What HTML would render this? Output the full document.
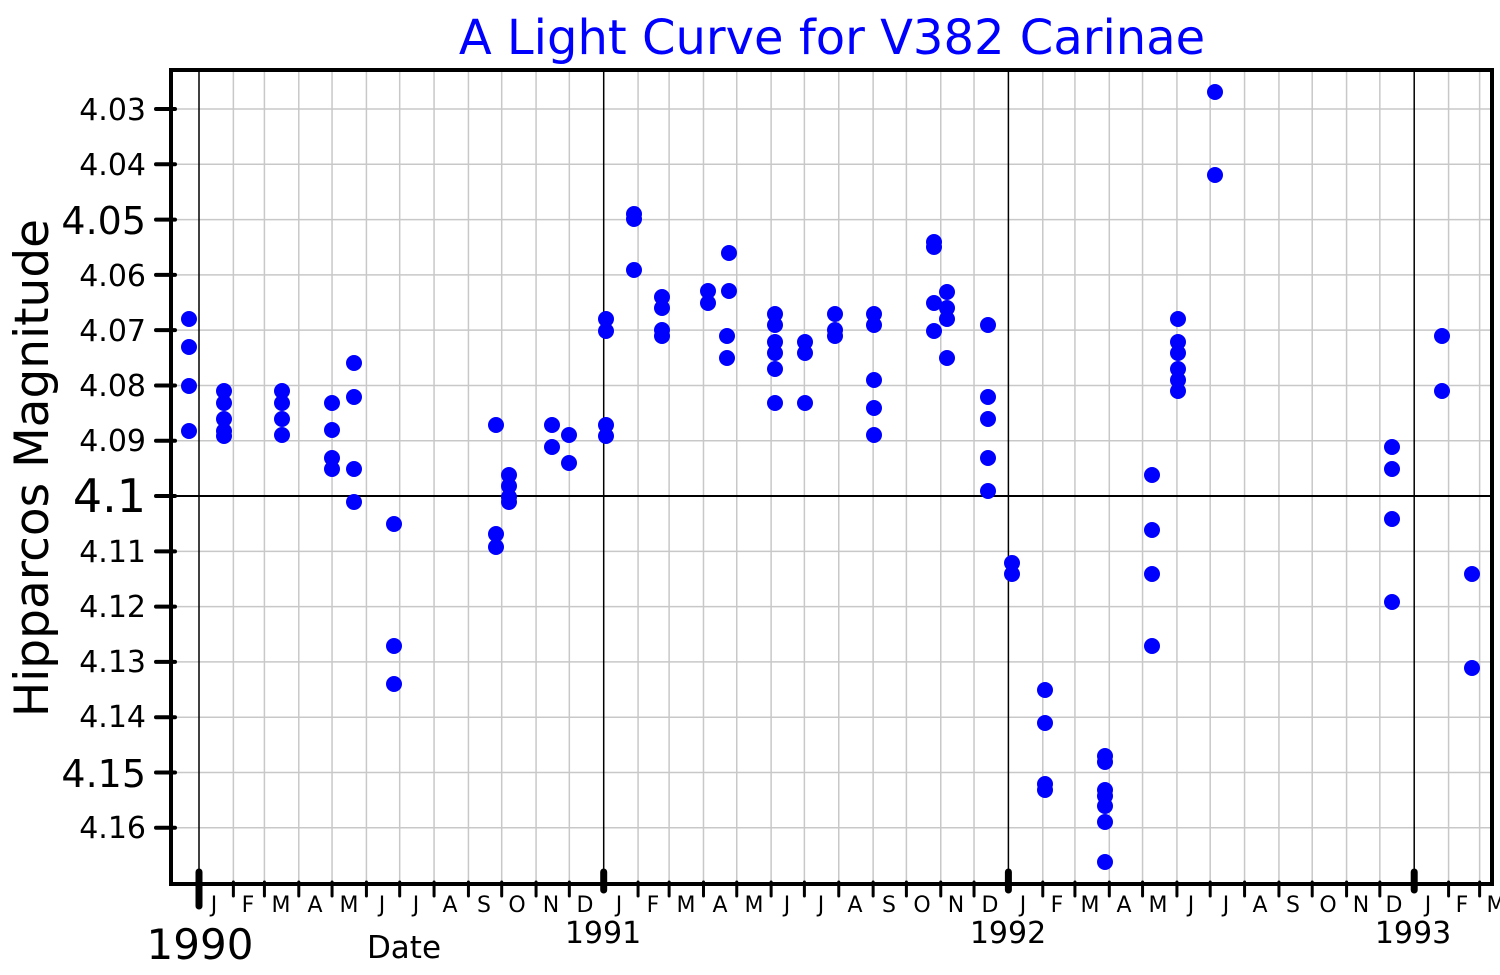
<!DOCTYPE html>
<html><head><meta charset="utf-8"><style>
html,body{margin:0;padding:0;background:#fff}
svg{display:block;font-family:"DejaVu Sans","Liberation Sans",sans-serif}
</style></head><body>
<svg id="s" width="1500" height="975" viewBox="0 0 1500 975" xmlns="http://www.w3.org/2000/svg">
<g id="grid" stroke="#c8c8c8" stroke-width="1.5"></g>
<g id="ml" stroke="#000" stroke-width="1.5"></g>
<line x1="171" y1="496" x2="1492" y2="496" stroke="#000" stroke-width="2"/>
<rect x="171" y="70" width="1321" height="814" fill="none" stroke="#000" stroke-width="4"/>
<g id="yt" stroke="#000" stroke-width="4" stroke-linecap="round"></g>
<g id="xt" stroke="#000" stroke-linecap="round"></g>
<g id="pts" fill="#0000ff"></g>
<text x="832" y="54" font-size="48" fill="#0000ff" text-anchor="middle">A Light Curve for V382 Carinae</text>
<text transform="translate(48,468) rotate(-90)" font-size="47" text-anchor="middle">Hipparcos Magnitude</text>
<g font-size="30" text-anchor="end">
<text x="146" y="120">4.03</text>
<text x="146" y="175">4.04</text>
<text x="146" y="234" font-size="38">4.05</text>
<text x="146" y="286">4.06</text>
<text x="146" y="341">4.07</text>
<text x="146" y="396">4.08</text>
<text x="146" y="451">4.09</text>
<text x="146" y="512" font-size="46">4.1</text>
<text x="146" y="562">4.11</text>
<text x="146" y="617">4.12</text>
<text x="146" y="672">4.13</text>
<text x="146" y="727">4.14</text>
<text x="146" y="787" font-size="38">4.15</text>
<text x="146" y="838">4.16</text>
</g>
<g font-size="22" text-anchor="middle">
<text x="214" y="912">J</text><text x="248" y="912">F</text><text x="281" y="912">M</text><text x="315" y="912">A</text><text x="349" y="912">M</text><text x="382" y="912">J</text><text x="416" y="912">J</text><text x="450" y="912">A</text><text x="484" y="912">S</text><text x="517" y="912">O</text><text x="551" y="912">N</text><text x="585" y="912">D</text>
<text x="619" y="912">J</text><text x="653" y="912">F</text><text x="686" y="912">M</text><text x="720" y="912">A</text><text x="754" y="912">M</text><text x="787" y="912">J</text><text x="821" y="912">J</text><text x="855" y="912">A</text><text x="889" y="912">S</text><text x="922" y="912">O</text><text x="956" y="912">N</text><text x="990" y="912">D</text>
<text x="1023" y="912">J</text><text x="1057" y="912">F</text><text x="1090" y="912">M</text><text x="1124" y="912">A</text><text x="1158" y="912">M</text><text x="1191" y="912">J</text><text x="1226" y="912">J</text><text x="1260" y="912">A</text><text x="1293" y="912">S</text><text x="1328" y="912">O</text><text x="1361" y="912">N</text><text x="1394" y="912">D</text>
<text x="1428" y="912">J</text><text x="1462" y="912">F</text><text x="1496" y="912">M</text>
</g>
<text x="200" y="959" font-size="42" text-anchor="middle">1990</text>
<text x="603" y="943" font-size="30" text-anchor="middle">1991</text>
<text x="1008" y="943" font-size="30" text-anchor="middle">1992</text>
<text x="1413" y="943" font-size="30" text-anchor="middle">1993</text>
<text x="404" y="958" font-size="31" text-anchor="middle">Date</text>
</svg>
<script>
var NS="http://www.w3.org/2000/svg";
function el(p,t,a){var e=document.createElementNS(NS,t);for(var k in a)e.setAttribute(k,a[k]);document.getElementById(p).appendChild(e);}
var ppd=404.7/365;
var ml=[31,28,31,30,31,30,31,31,30,31,30,31];
var d=0;
for(var y=0;y<4;y++){for(var m=0;m<12;m++){var x=199+d*ppd;if(x<1492){
 if(m==0){el('ml','line',{x1:x,y1:70,x2:x,y2:884});el('xt','line',{x1:x,y1:872,x2:x,y2:y==0?906:890,'stroke-width':7});}
 else{el('grid','line',{x1:x,y1:70,x2:x,y2:884});el('xt','line',{x1:x,y1:882,x2:x,y2:896,'stroke-width':3});}
 }
 var n=ml[m];if(m==1&&y==2)n=29;d+=n;}}
for(var i=0;i<14;i++){var yy=109+i*55.29;el('grid','line',{x1:171,y1:yy,x2:1492,y2:yy});el('yt','line',{x1:156,y1:yy,x2:175,y2:yy});}
var P={189:[319,347,386,431],224:[391,403,419,431,436],282:[391,403,419,435],332:[403,430,458,469],354:[363,397,469,502],394:[524,646,684],496:[425,534,547],509:[475,486,497,502],552:[425,447],569:[435,463],606:[319,331,425,436],634:[214,219,270],662:[297,308,330,336],708:[291,303],729:[253,291],727:[336,358],775:[314,325,342,353,369,403],805:[342,353,403],835:[314,330,336],874:[314,325,380,408,435],934:[242,247,303,331],947:[292,308,319,358],988:[325,397,419,458,491],1012:[563,574],1045:[690,723,784,790],1105:[756,762,790,796,806,822,862],1152:[475,530,574,646],1178:[319,342,353,369,380,391],1215:[92,175],1392:[447,469,519,602],1442:[336,391],1472:[574,668]};
for(var k in P)P[k].forEach(function(v){el('pts','circle',{cx:k,cy:v,r:8});});
</script>
</body></html>
